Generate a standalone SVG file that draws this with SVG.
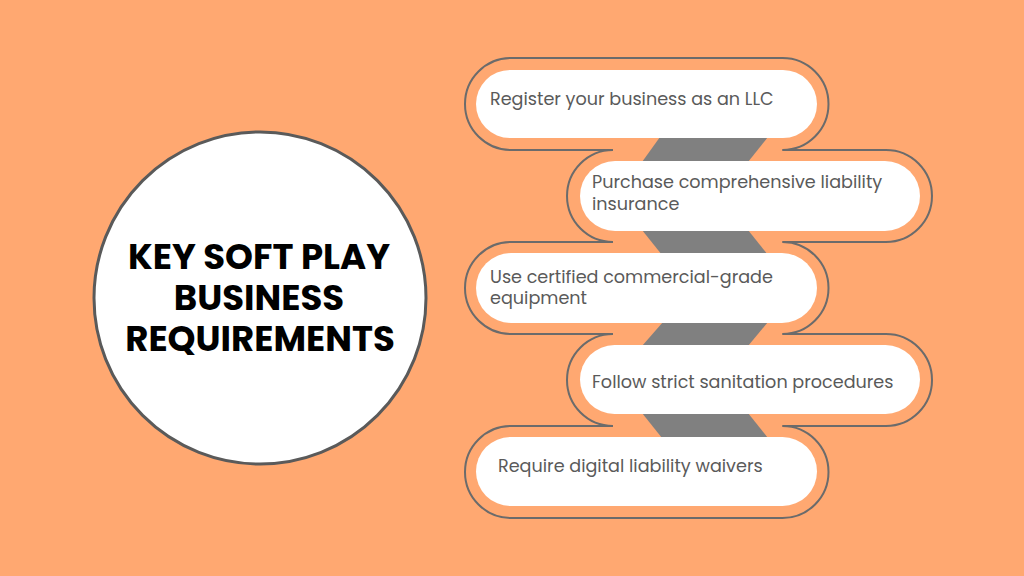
<svg xmlns="http://www.w3.org/2000/svg" width="1024" height="576" viewBox="0 0 1024 576">
<style>
.bg{fill:#FFA871}
.ol{fill:none;stroke:#6b6b6b;stroke-width:2}
.pill{fill:#ffffff}
.band{fill:#808080}
.t{font-family:"Poppins","Open Sans","DejaVu Sans",sans-serif;font-size:17.6px;fill:#5a5a5a}
.title{font-family:"Poppins","Open Sans","DejaVu Sans",sans-serif;font-size:35.5px;font-weight:bold;fill:#000;text-anchor:middle}
</style>
<rect class="bg" x="0" y="0" width="1024" height="576"/>
<g id="center">
<circle cx="260" cy="298" r="166" fill="#fff" stroke="#5a5a5a" stroke-width="3"/>
<text class="title" x="259" y="269">KEY SOFT PLAY</text>
<text class="title" x="259" y="310">BUSINESS</text>
<text class="title" x="260" y="351">REQUIREMENTS</text>
</g>
<g id="connectors">
<polygon class="band" points="660,137 768,137 748,162 642,162"/>
<polygon class="band" points="642,230 748,230 768,255 662,255"/>
<polygon class="band" points="663,322 768,322 748,346 642,346"/>
<polygon class="band" points="642,413 748,413 768,438 662,438"/>
</g>
<g id="step1">
<path class="ol" d="M 613 150 L 511 150 A 46 46 0 0 1 511 58 L 782.5 58 A 46 46 0 0 1 782.5 150"/>
<rect class="pill" x="476" y="70" width="341" height="68" rx="34"/>
<text class="t" x="490" y="105">Register your business as an LLC</text>
</g>
<g id="step2">
<path class="ol" d="M 613 150 A 46 46 0 0 0 613 242"/>
<path class="ol" d="M 782.5 150 L 886 150 A 46 46 0 0 1 886 242 L 782.5 242"/>
<rect class="pill" x="580" y="161" width="340" height="70" rx="35"/>
<text class="t" x="592" y="188">Purchase comprehensive liability</text>
<text class="t" x="592" y="210">insurance</text>
</g>
<g id="step3">
<path class="ol" d="M 613 242 L 511 242 A 46 46 0 0 0 511 334 L 613 334"/>
<path class="ol" d="M 782.5 242 A 46 46 0 0 1 782.5 334"/>
<rect class="pill" x="476" y="253" width="341" height="70" rx="35"/>
<text class="t" x="490" y="283">Use certified commercial-grade</text>
<text class="t" x="490" y="304">equipment</text>
</g>
<g id="step4">
<path class="ol" d="M 613 334 A 46 46 0 0 0 613 426"/>
<path class="ol" d="M 782.5 334 L 886 334 A 46 46 0 0 1 886 426 L 782.5 426"/>
<rect class="pill" x="580" y="345" width="340" height="69" rx="34.5"/>
<text class="t" x="592" y="388">Follow strict sanitation procedures</text>
</g>
<g id="step5">
<path class="ol" d="M 613 426 L 511 426 A 46 46 0 0 0 511 518 L 782.5 518 A 46 46 0 0 0 782.5 426"/>
<rect class="pill" x="476" y="437" width="341" height="69" rx="34.5"/>
<text class="t" x="498" y="472">Require digital liability waivers</text>
</g>
</svg>
